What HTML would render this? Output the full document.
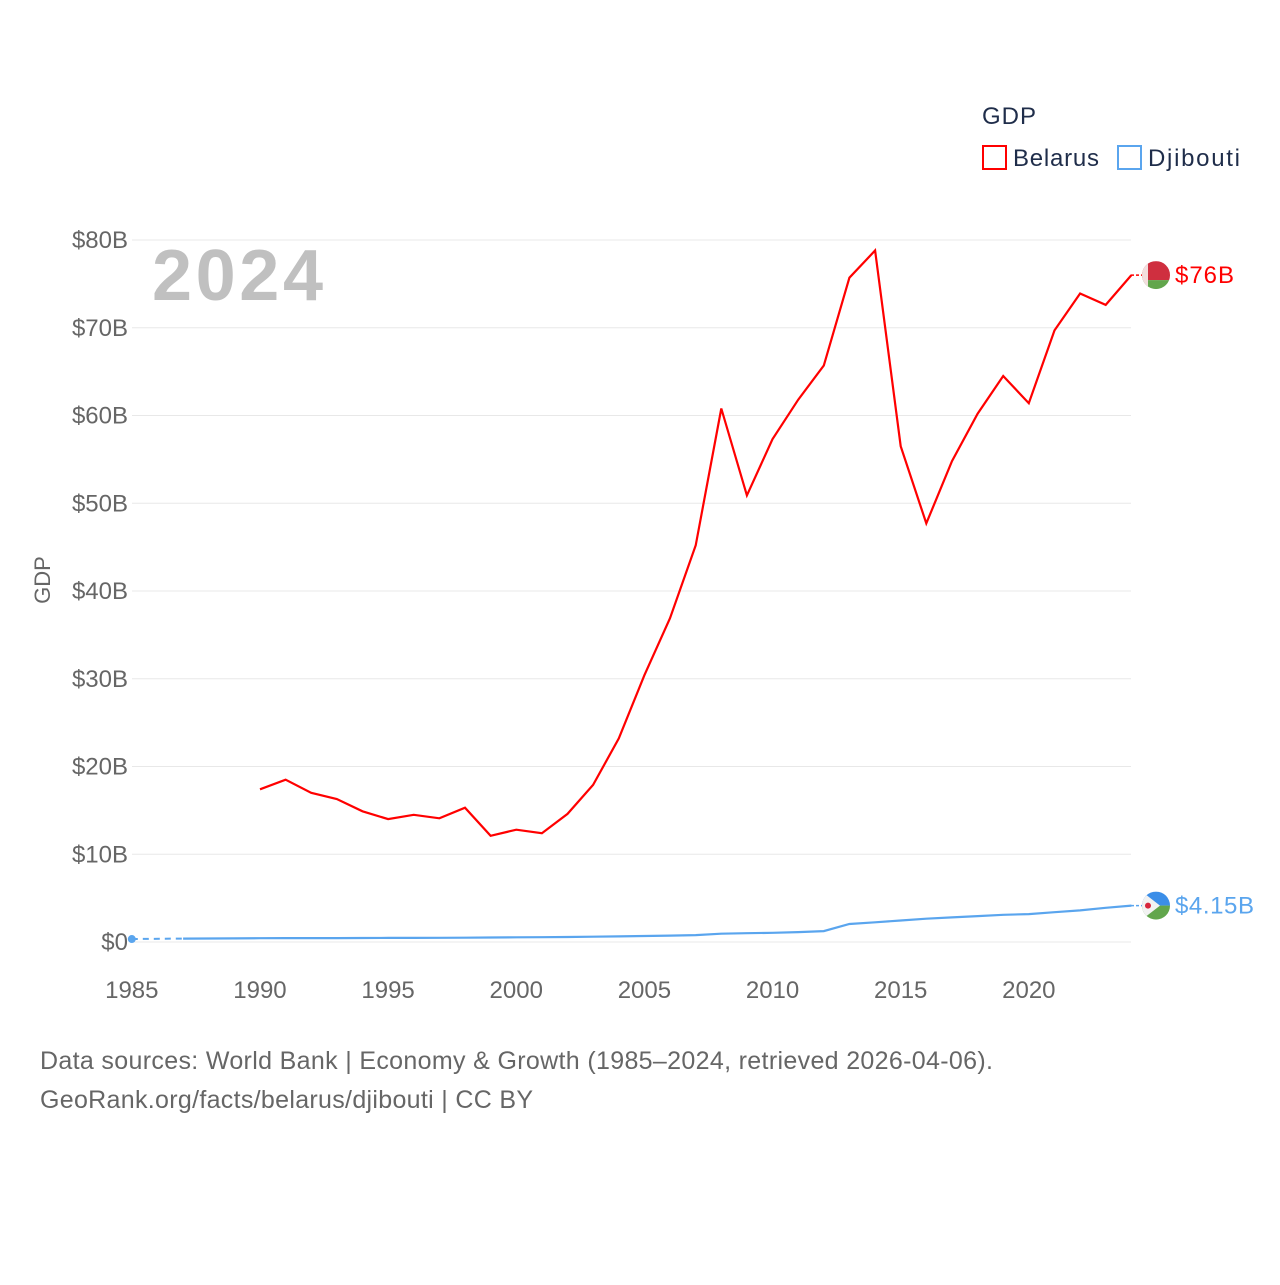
<!DOCTYPE html>
<html><head><meta charset="utf-8"><style>
body{margin:0;background:#fff;font-family:"Liberation Sans",sans-serif}
svg text{font-family:"Liberation Sans",sans-serif}
</style></head><body>
<svg id="chart" width="1280" height="1280" xmlns="http://www.w3.org/2000/svg">
<rect width="1280" height="1280" fill="#fff"/>
<g id="legend">
<text x="982" y="124" font-size="24" fill="#1f2d4a" textLength="54">GDP</text>
<g><rect x="983" y="146" width="23" height="23" fill="none" stroke="#f00" stroke-width="2"/><text x="1013" y="166" font-size="24" fill="#1f2d4a" textLength="86">Belarus</text></g>
<g><rect x="1118" y="146" width="23" height="23" fill="none" stroke="#5aa5ee" stroke-width="2"/><text x="1148" y="166" font-size="24" fill="#1f2d4a" textLength="92">Djibouti</text></g>
</g>
<g id="grid"></g>
<g id="yticks"></g>
<g id="xticks"></g>
<text x="152" y="300" font-size="72" font-weight="bold" fill="#c0c0c0" textLength="171">2024</text>
<text transform="translate(50,580) rotate(-90)" text-anchor="middle" font-size="22" fill="#666">GDP</text>
<g id="series"></g>
<text x="40" y="1069" font-size="25" fill="#666" textLength="953">Data sources: World Bank | Economy &amp; Growth (1985–2024, retrieved 2026-04-06).</text>
<text x="40" y="1108" font-size="25" fill="#666" textLength="493">GeoRank.org/facts/belarus/djibouti | CC BY</text>
</svg>
<script>
const years=[];for(let y=1985;y<=2024;y++)years.push(y);
const belarus=[null,null,null,null,null,17.4,18.5,17.0,16.3,14.9,14.0,14.5,14.1,15.3,12.1,12.8,12.4,14.6,17.9,23.2,30.4,36.9,45.2,60.8,50.9,57.3,61.8,65.7,75.7,78.8,56.5,47.7,54.8,60.2,64.5,61.4,69.7,73.9,72.6,76.0];
const djibouti=[0.34,null,0.39,0.40,0.41,0.43,0.44,0.45,0.44,0.46,0.47,0.47,0.48,0.49,0.51,0.53,0.55,0.57,0.60,0.64,0.68,0.73,0.79,0.95,1.0,1.05,1.13,1.24,2.05,2.25,2.45,2.65,2.8,2.95,3.1,3.18,3.4,3.6,3.9,4.15];
const yTicks=[0,10,20,30,40,50,60,70,80];
const yTickLabels=["$0","$10B","$20B","$30B","$40B","$50B","$60B","$70B","$80B"];
const xTicks=[1985,1990,1995,2000,2005,2010,2015,2020];
const NS="http://www.w3.org/2000/svg";
const X=y=>131.8+(y-1985)*25.63, Y=v=>942-v*8.775;
function mk(t,a,p){const e=document.createElementNS(NS,t);for(const k in a)e.setAttribute(k,a[k]);p.appendChild(e);return e;}
const grid=document.getElementById('grid'),yt=document.getElementById('yticks'),xt=document.getElementById('xticks'),ser=document.getElementById('series');
yTicks.forEach((v,i)=>{const l=mk('line',{x1:132,x2:1131,y1:Y(v),y2:Y(v),stroke:'#e8e8e8','stroke-width':1},grid);


const t=mk('text',{x:128,y:Y(v)+8,'text-anchor':'end','font-size':24,fill:'#666'},yt);t.textContent=yTickLabels[i];

});
xTicks.forEach(v=>{const t=mk('text',{x:X(v),y:998,'text-anchor':'middle','font-size':24,fill:'#666'},xt);t.textContent=v;

});
function pathOf(arr){let d='',pen=false;arr.forEach((v,i)=>{if(v==null){pen=false;return;}d+=(pen?'L':'M')+X(years[i]).toFixed(1)+','+Y(v).toFixed(1);pen=true;});return d;}
const pb=mk('path',{d:pathOf(belarus),fill:'none',stroke:'#f00','stroke-width':2.2},ser);


const pd=mk('path',{d:pathOf(djibouti),fill:'none',stroke:'#5aa5ee','stroke-width':2.2},ser);


const dd=mk('line',{x1:X(1985),y1:Y(djibouti[0]),x2:X(1987),y2:Y(djibouti[2]),stroke:'#5aa5ee','stroke-width':2,'stroke-dasharray':'6,5'},ser);


const dot=mk('circle',{cx:X(1985),cy:Y(djibouti[0]),r:4,fill:'#5aa5ee'},ser);


function flag(v,kind,label,color,tl){const cy=Y(v),cx=1156;const g=mk('g',{},ser);


mk('line',{x1:1131,x2:1142,y1:cy,y2:cy,stroke:color,'stroke-width':1.5,'stroke-dasharray':'3,2'},g);
const cid='c'+kind;const cp=mk('clipPath',{id:cid},g);mk('circle',{cx:cx,cy:cy,r:14},cp);
const f=mk('g',{'clip-path':'url(#'+cid+')'},g);
if(kind==='belarus'){mk('rect',{x:cx-14,y:cy-14,width:28,height:19,fill:'#cf2f3f'},f);mk('rect',{x:cx-14,y:cy+5,width:28,height:9,fill:'#62a64c'},f);mk('rect',{x:cx-14,y:cy-14,width:6,height:28,fill:'#f3dede'},f);}
else{mk('rect',{x:cx-14,y:cy-14,width:28,height:14,fill:'#3b8ee8'},f);mk('rect',{x:cx-14,y:cy,width:28,height:14,fill:'#62a64c'},f);mk('path',{d:`M${cx-14},${cy-14}L${cx+4},${cy}L${cx-14},${cy+14}Z`,fill:'#f2f2f2'},f);mk('circle',{cx:cx-8,cy:cy,r:3,fill:'#d7263d'},f);}
const t=mk('text',{x:1175,y:cy+8,'font-size':24,fill:color,textLength:tl},g);t.textContent=label;}
flag(belarus[belarus.length-1],'belarus','$76B','#f00',59);
flag(djibouti[djibouti.length-1],'djibouti','$4.15B','#5aa5ee',79);
</script>
</body></html>
